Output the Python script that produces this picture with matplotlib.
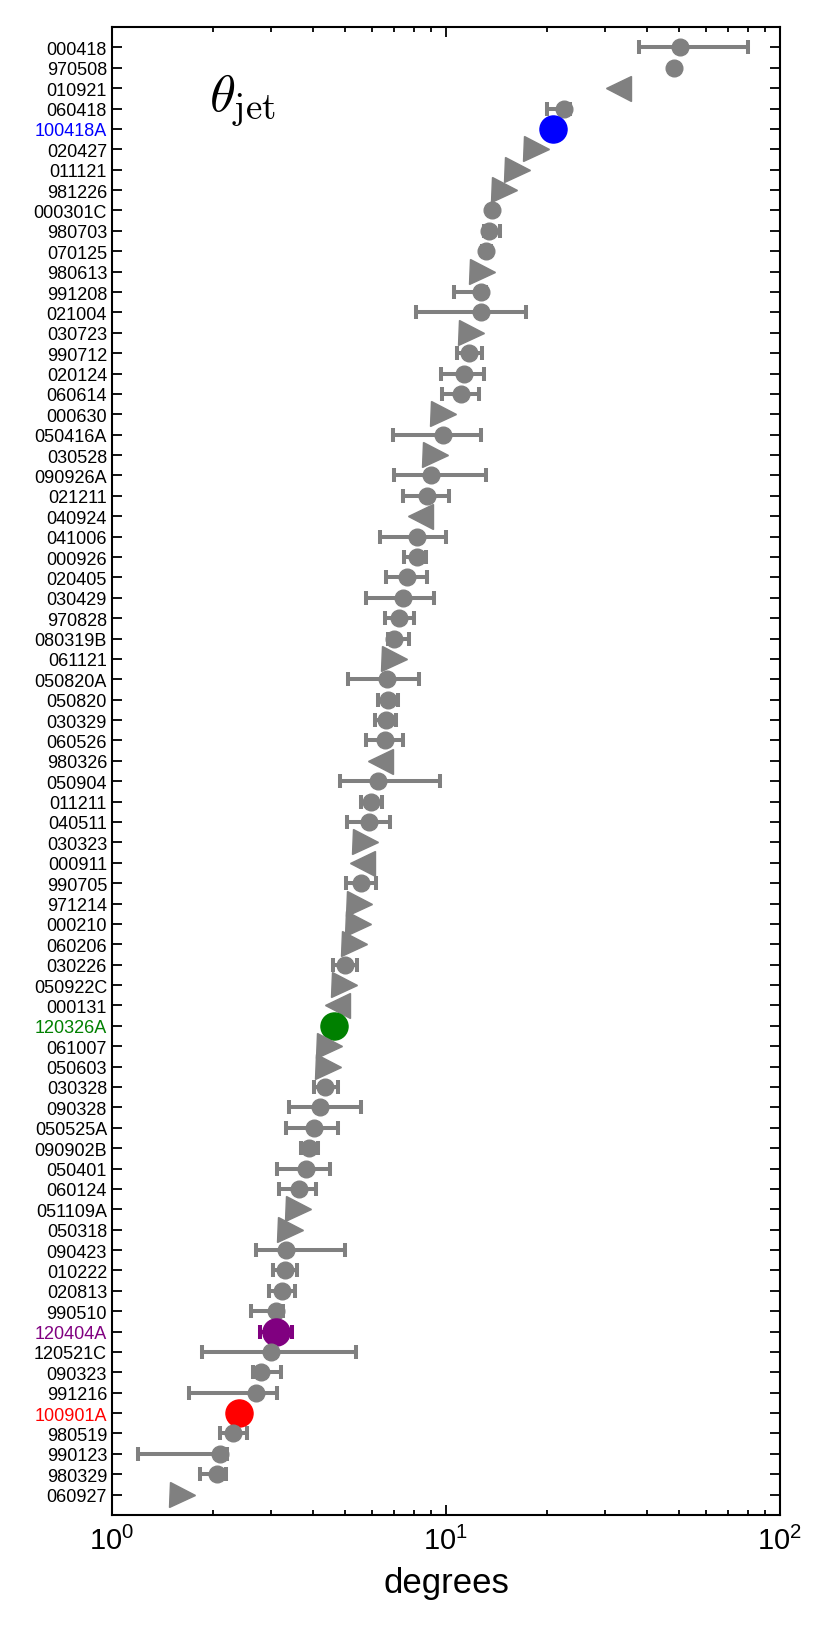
import numpy as np
import matplotlib.pyplot as plt

plt.rcParams['font.family'] = ['Liberation Sans', 'DejaVu Sans']
plt.rcParams['mathtext.fontset'] = 'custom'
plt.rcParams['mathtext.rm'] = 'Liberation Sans'
plt.rcParams['mathtext.it'] = 'Liberation Sans:italic'

# GRB names, top to bottom
grb = ["000418", "970508", "010921", "060418", "100418A", "020427", "011121", "981226",
       "000301C", "980703", "070125", "980613", "991208", "021004", "030723", "990712",
       "020124", "060614", "000630", "050416A", "030528", "090926A", "021211", "040924",
       "041006", "000926", "020405", "030429", "970828", "080319B", "061121", "050820A",
       "050820", "030329", "060526", "980326", "050904", "011211", "040511", "030323",
       "000911", "990705", "971214", "000210", "060206", "030226", "050922C", "000131",
       "120326A", "061007", "050603", "030328", "090328", "050525A", "090902B", "050401",
       "060124", "051109A", "050318", "090423", "010222", "020813", "990510", "120404A",
       "120521C", "090323", "991216", "100901A", "980519", "990123", "980329", "060927"]

# jet opening angle (degrees)
theta = [50.2, 48.2, 32.8, 22.5, 20.9, 18.6, 16.3, 14.9,
         13.7, 13.45, 13.2, 12.8, 12.7, 12.7, 11.86, 11.7,
         11.3, 11.1, 9.8, 9.77, 9.25, 9.04, 8.79, 8.38,
         8.17, 8.20, 7.65, 7.43, 7.24, 7.01, 6.98, 6.66,
         6.69, 6.61, 6.56, 6.35, 6.24, 5.97, 5.88, 5.71,
         5.61, 5.55, 5.49, 5.45, 5.31, 4.98, 4.96, 4.73,
         4.61, 4.48, 4.43, 4.35, 4.21, 4.03, 3.90, 3.80,
         3.62, 3.61, 3.42, 3.31, 3.30, 3.24, 3.10, 3.10,
         3.00, 2.80, 2.70, 2.40, 2.30, 2.10, 2.06, 1.62]

nan = np.nan
theta_lo = [37.9, nan, nan, 20.0, nan, nan, nan, nan,
            nan, 13.0, 12.8, nan, 10.6, 8.13, nan, 10.8,
            9.66, 9.7, nan, 6.93, nan, 6.98, 7.46, nan,
            6.36, 7.48, 6.63, 5.75, 6.59, 6.7, nan, 5.10,
            6.28, 6.15, 5.75, nan, 4.83, 5.57, 5.07, nan,
            nan, 5.01, nan, nan, nan, 4.59, nan, nan,
            nan, nan, nan, 4.03, 3.39, 3.33, 3.69, 3.13,
            3.17, nan, nan, 2.70, 3.04, 2.96, 2.60, 2.78,
            1.86, 2.65, 1.70, nan, 2.10, 1.20, 1.83, nan]
theta_hi = [80.4, nan, nan, 23.5, nan, nan, nan, nan,
            nan, 14.5, 13.6, nan, 13.2, 17.4, nan, 12.8,
            13.0, 12.6, nan, 12.7, nan, 13.2, 10.2, nan,
            9.98, 8.69, 8.79, 9.18, 8.02, 7.77, nan, 8.28,
            7.16, 7.11, 7.43, nan, 9.62, 6.42, 6.81, nan,
            nan, 6.17, nan, nan, nan, 5.41, nan, nan,
            nan, nan, nan, 4.75, 5.57, 4.75, 4.15, 4.49,
            4.08, nan, nan, 4.98, 3.57, 3.53, 3.25, 3.45,
            5.37, 3.21, 3.12, nan, 2.53, 2.21, 2.19, nan]

# 'o' measurement, '>' lower limit, '<' upper limit
kind = ['o', 'o', '<', 'o', 'o', '>', '>', '>',
        'o', 'o', 'o', '>', 'o', 'o', '>', 'o',
        'o', 'o', '>', 'o', '>', 'o', 'o', '<',
        'o', 'o', 'o', 'o', 'o', 'o', '>', 'o',
        'o', 'o', 'o', '<', 'o', 'o', 'o', '>',
        '<', 'o', '>', '>', '>', 'o', '>', '<',
        'o', '>', '>', 'o', 'o', 'o', 'o', 'o',
        'o', '>', '>', 'o', 'o', 'o', 'o', 'o',
        'o', 'o', 'o', 'o', 'o', 'o', 'o', '>']

highlight = {"100418A": "blue", "120326A": "green", "120404A": "purple", "100901A": "red"}

fig = plt.figure(figsize=(8.3, 16.4), dpi=100)
ax = fig.add_axes([0.1349, 0.0756, 0.8048, 0.9073])

for i, name in enumerate(grb):
    col = highlight.get(name, 'gray')
    ms = 19.5 if name in highlight else 12
    if kind[i] != 'o':
        ax.plot(theta[i], i, marker=kind[i], color=col, ms=18, mec=col, ls='none', zorder=3)
        continue
    if not np.isnan(theta_lo[i]):
        ax.errorbar(theta[i], i, xerr=[[theta[i] - theta_lo[i]], [theta_hi[i] - theta[i]]],
                    fmt='none', ecolor=col, elinewidth=2.9, capsize=5, capthick=2.9, zorder=2)
    ax.plot(theta[i], i, marker='o', color=col, ms=ms, mec=col, ls='none', zorder=3)

ax.set_xscale('log')
ax.set_xlim(1, 100)
ax.set_ylim(len(grb), -1)
ax.set_yticks(range(len(grb)))
ax.set_yticklabels(grb, fontsize=13)
for lab in ax.get_yticklabels():
    if lab.get_text() in highlight:
        lab.set_color(highlight[lab.get_text()])

ax.tick_params(axis='both', which='both', direction='in', top=True, right=True, width=1.3)
ax.tick_params(axis='both', which='major', length=7)
ax.tick_params(axis='x', which='minor', length=3.5)
ax.tick_params(axis='x', which='major', labelsize=21, pad=8)
for sp in ax.spines.values():
    sp.set_linewidth(1.5)

ax.set_xlabel("degrees", fontsize=25, labelpad=8)
ax.text(0.146, 0.951, r'$\theta_{\rm jet}$', transform=ax.transAxes, fontsize=38,
        math_fontfamily='cm', va='center', ha='left')

fig.savefig("out.png")
